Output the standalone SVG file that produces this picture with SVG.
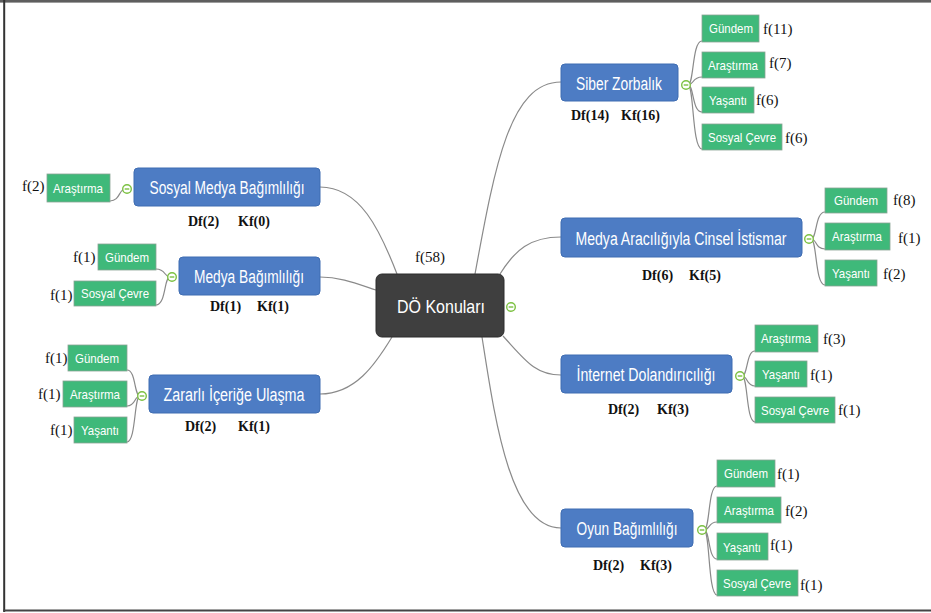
<svg xmlns="http://www.w3.org/2000/svg" width="931" height="613" viewBox="0 0 931 613">
<style>
.blue{fill:#4d7cc4;stroke:#3f6db2;stroke-width:1}
.grn{fill:#3fb97a;stroke:#8aa394;stroke-width:0.8}
.bt{font-family:"Liberation Sans",Arial,sans-serif;font-size:18px;fill:#fff;text-anchor:middle}
.gt{font-family:"Liberation Sans",Arial,sans-serif;font-size:13px;fill:#fff;text-anchor:middle}
.f{font-family:"Liberation Serif","Times New Roman",serif;font-size:15px;fill:#111}
.d{font-family:"Liberation Serif","Times New Roman",serif;font-size:14px;font-weight:bold;fill:#111}
.c{fill:none;stroke:#8a8a8a;stroke-width:1.2}
.tog{fill:#fff;stroke:#7cc142;stroke-width:1.4}
.togm{stroke:#7cc142;stroke-width:1.4}
</style>
<defs>
<g id="toggle"><circle r="4.3" class="tog"/><line x1="-2.3" y1="0" x2="2.3" y2="0" class="togm"/></g>
</defs>
<rect x="0" y="0" width="931" height="613" fill="#fff"/>
<!-- frame -->
<rect x="0" y="0" width="931" height="2.6" fill="#5e5e5e"/>
<rect x="3.2" y="0" width="2" height="612" fill="#333"/>
<rect x="3.2" y="609.5" width="927.8" height="2" fill="#444"/>

<g id="connectors">
<path class="c" d="M475,274 C495,165 510,82 561,82"/>
<path class="c" d="M500,274 C515,250 530,237 561,237"/>
<path class="c" d="M503,336 C525,360 535,375 561,375"/>
<path class="c" d="M482,337 C495,420 510,528 561,528"/>
<path class="c" d="M397,274 C380,230 360,187 320,187"/>
<path class="c" d="M376,290 C355,283 340,277 320,277"/>
<path class="c" d="M392,337 C375,365 355,394 320,394"/>
<!-- Siber children -->
<path class="c" d="M688,85 C694,85 692,41 702,41"/>
<path class="c" d="M688,85 C694,85 692,77 702,77"/>
<path class="c" d="M688,85 C694,85 692,112 702,112"/>
<path class="c" d="M688,85 C694,85 692,149 702,149"/>
<!-- Medya Aracılığıyla children -->
<path class="c" d="M811,239 C817,239 815,212 825,212"/>
<path class="c" d="M811,239 C817,239 815,249 825,249"/>
<path class="c" d="M811,239 C817,239 815,285 825,285"/>
<!-- Internet children -->
<path class="c" d="M742,376 C748,376 746,351 755,351"/>
<path class="c" d="M742,376 C748,376 746,386 755,386"/>
<path class="c" d="M742,376 C748,376 746,422 755,422"/>
<!-- Oyun children -->
<path class="c" d="M704,530 C710,530 708,486 717,486"/>
<path class="c" d="M704,530 C710,530 708,522 717,522"/>
<path class="c" d="M704,530 C710,530 708,559 717,559"/>
<path class="c" d="M704,530 C710,530 708,595 717,595"/>
<!-- Sosyal Medya child -->
<path class="c" d="M125,189 C119,189 120,201 110,201"/>
<!-- Medya Bağımlılığı children -->
<path class="c" d="M170,277 C164,277 166,269 156,269"/>
<path class="c" d="M170,277 C164,277 166,305 156,305"/>
<!-- Zararlı children -->
<path class="c" d="M140,396 C134,396 136,370 127,370"/>
<path class="c" d="M140,396 C134,396 136,406 127,406"/>
<path class="c" d="M140,396 C134,396 136,442 127,442"/>
</g>

<g id="center">
<rect x="376" y="274" width="128" height="63" rx="6" fill="#3f3f3f" stroke="#2c2c2c"/>
<text x="441" y="313" class="bt" style="font-size:19px" textLength="88" lengthAdjust="spacingAndGlyphs">DÖ Konuları</text>
<use href="#toggle" x="511" y="307"/>
<text x="415" y="262" class="f">f(58)</text>
</g>

<g id="siber">
<rect x="561" y="64" width="117" height="37" rx="4" class="blue"/>
<text x="619" y="90" class="bt" textLength="86" lengthAdjust="spacingAndGlyphs">Siber Zorbalık</text>
<use href="#toggle" x="686" y="85"/>
<text x="571" y="120" class="d">Df(14)</text><text x="621" y="120" class="d">Kf(16)</text>
</g>
<g id="siber-gundem"><rect x="702" y="15" width="57" height="27" class="grn"/><text x="731" y="33" class="gt" textLength="44" lengthAdjust="spacingAndGlyphs">Gündem</text><text x="763" y="34" class="f">f(11)</text></g>
<g id="siber-arastirma"><rect x="702" y="52" width="63" height="26" class="grn"/><text x="733" y="70" class="gt" textLength="50" lengthAdjust="spacingAndGlyphs">Araştırma</text><text x="769" y="68" class="f">f(7)</text></g>
<g id="siber-yasanti"><rect x="702" y="87" width="52" height="26" class="grn"/><text x="728" y="105" class="gt" textLength="38" lengthAdjust="spacingAndGlyphs">Yaşantı</text><text x="756" y="105" class="f">f(6)</text></g>
<g id="siber-sosyal"><rect x="702" y="124" width="80" height="26" class="grn"/><text x="742" y="142" class="gt" textLength="68" lengthAdjust="spacingAndGlyphs">Sosyal Çevre</text><text x="785" y="143" class="f">f(6)</text></g>

<g id="medya-istismar">
<rect x="561" y="218" width="241" height="39" rx="4" class="blue"/>
<text x="681" y="245" class="bt" textLength="211" lengthAdjust="spacingAndGlyphs">Medya Aracılığıyla Cinsel İstismar</text>
<use href="#toggle" x="809" y="239"/>
<text x="642" y="280" class="d">Df(6)</text><text x="689" y="280" class="d">Kf(5)</text>
</g>
<g id="mi-gundem"><rect x="825" y="188" width="62" height="25" class="grn"/><text x="856" y="205" class="gt" textLength="44" lengthAdjust="spacingAndGlyphs">Gündem</text><text x="893" y="205" class="f">f(8)</text></g>
<g id="mi-arastirma"><rect x="825" y="223" width="65" height="27" class="grn"/><text x="857" y="241" class="gt" textLength="50" lengthAdjust="spacingAndGlyphs">Araştırma</text><text x="898" y="243" class="f">f(1)</text></g>
<g id="mi-yasanti"><rect x="825" y="260" width="52" height="26" class="grn"/><text x="851" y="278" class="gt" textLength="38" lengthAdjust="spacingAndGlyphs">Yaşantı</text><text x="883" y="279" class="f">f(2)</text></g>

<g id="internet">
<rect x="561" y="355" width="171" height="38" rx="4" class="blue"/>
<text x="646" y="381" class="bt" textLength="139" lengthAdjust="spacingAndGlyphs">İnternet Dolandırıcılığı</text>
<use href="#toggle" x="740" y="376"/>
<text x="608" y="414" class="d">Df(2)</text><text x="657" y="414" class="d">Kf(3)</text>
</g>
<g id="in-arastirma"><rect x="755" y="325" width="63" height="27" class="grn"/><text x="786" y="343" class="gt" textLength="50" lengthAdjust="spacingAndGlyphs">Araştırma</text><text x="823" y="344" class="f">f(3)</text></g>
<g id="in-yasanti"><rect x="755" y="361" width="52" height="26" class="grn"/><text x="781" y="379" class="gt" textLength="38" lengthAdjust="spacingAndGlyphs">Yaşantı</text><text x="810" y="380" class="f">f(1)</text></g>
<g id="in-sosyal"><rect x="755" y="397" width="80" height="26" class="grn"/><text x="795" y="415" class="gt" textLength="68" lengthAdjust="spacingAndGlyphs">Sosyal Çevre</text><text x="838" y="415" class="f">f(1)</text></g>

<g id="oyun">
<rect x="561" y="509" width="132" height="38" rx="4" class="blue"/>
<text x="627" y="535" class="bt" textLength="101" lengthAdjust="spacingAndGlyphs">Oyun Bağımlılığı</text>
<use href="#toggle" x="702" y="530"/>
<text x="593" y="570" class="d">Df(2)</text><text x="640" y="570" class="d">Kf(3)</text>
</g>
<g id="oy-gundem"><rect x="717" y="460" width="58" height="27" class="grn"/><text x="746" y="478" class="gt" textLength="44" lengthAdjust="spacingAndGlyphs">Gündem</text><text x="777" y="479" class="f">f(1)</text></g>
<g id="oy-arastirma"><rect x="717" y="497" width="64" height="26" class="grn"/><text x="749" y="515" class="gt" textLength="50" lengthAdjust="spacingAndGlyphs">Araştırma</text><text x="785" y="516" class="f">f(2)</text></g>
<g id="oy-yasanti"><rect x="717" y="533" width="51" height="27" class="grn"/><text x="742" y="552" class="gt" textLength="38" lengthAdjust="spacingAndGlyphs">Yaşantı</text><text x="770" y="550" class="f">f(1)</text></g>
<g id="oy-sosyal"><rect x="717" y="570" width="81" height="26" class="grn"/><text x="757" y="588" class="gt" textLength="68" lengthAdjust="spacingAndGlyphs">Sosyal Çevre</text><text x="800" y="590" class="f">f(1)</text></g>

<g id="sosyal-medya">
<rect x="134" y="168" width="186" height="38" rx="4" class="blue"/>
<text x="227" y="194" class="bt" textLength="155" lengthAdjust="spacingAndGlyphs">Sosyal Medya Bağımlılığı</text>
<use href="#toggle" x="127" y="189"/>
<text x="188" y="226" class="d">Df(2)</text><text x="238" y="226" class="d">Kf(0)</text>
</g>
<g id="sm-arastirma"><rect x="47" y="174" width="63" height="28" class="grn"/><text x="78" y="193" class="gt" textLength="50" lengthAdjust="spacingAndGlyphs">Araştırma</text><text x="22" y="191" class="f">f(2)</text></g>

<g id="medya-bagimlilik">
<rect x="179" y="257" width="141" height="38" rx="4" class="blue"/>
<text x="249" y="283" class="bt" textLength="110" lengthAdjust="spacingAndGlyphs">Medya Bağımlılığı</text>
<use href="#toggle" x="172" y="277"/>
<text x="210" y="311" class="d">Df(1)</text><text x="257" y="311" class="d">Kf(1)</text>
</g>
<g id="mb-gundem"><rect x="98" y="244" width="58" height="26" class="grn"/><text x="127" y="262" class="gt" textLength="44" lengthAdjust="spacingAndGlyphs">Gündem</text><text x="73" y="262" class="f">f(1)</text></g>
<g id="mb-sosyal"><rect x="74" y="281" width="82" height="25" class="grn"/><text x="115" y="298" class="gt" textLength="68" lengthAdjust="spacingAndGlyphs">Sosyal Çevre</text><text x="50" y="300" class="f">f(1)</text></g>

<g id="zararli">
<rect x="149" y="375" width="171" height="38" rx="4" class="blue"/>
<text x="234" y="401" class="bt" textLength="141" lengthAdjust="spacingAndGlyphs">Zararlı İçeriğe Ulaşma</text>
<use href="#toggle" x="142" y="396"/>
<text x="185" y="431" class="d">Df(2)</text><text x="238" y="431" class="d">Kf(1)</text>
</g>
<g id="za-gundem"><rect x="68" y="345" width="59" height="26" class="grn"/><text x="97" y="363" class="gt" textLength="44" lengthAdjust="spacingAndGlyphs">Gündem</text><text x="45" y="363" class="f">f(1)</text></g>
<g id="za-arastirma"><rect x="63" y="381" width="64" height="26" class="grn"/><text x="95" y="399" class="gt" textLength="50" lengthAdjust="spacingAndGlyphs">Araştırma</text><text x="38" y="399" class="f">f(1)</text></g>
<g id="za-yasanti"><rect x="74" y="417" width="53" height="26" class="grn"/><text x="100" y="435" class="gt" textLength="38" lengthAdjust="spacingAndGlyphs">Yaşantı</text><text x="50" y="435" class="f">f(1)</text></g>
</svg>
